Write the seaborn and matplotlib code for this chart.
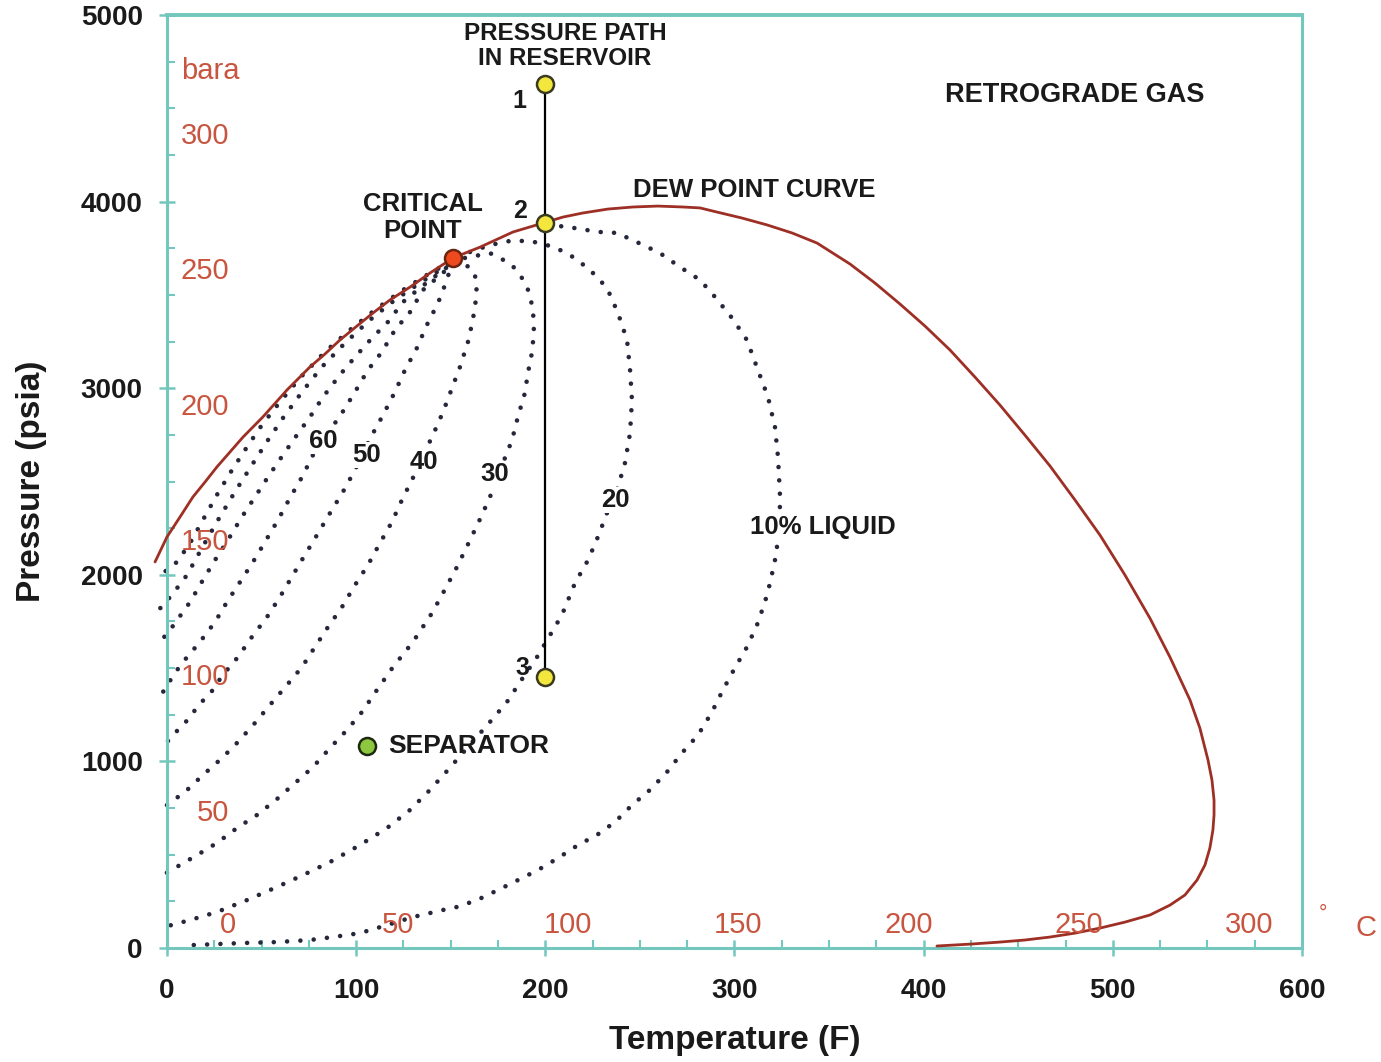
import matplotlib
matplotlib.use("Agg")
import matplotlib.pyplot as plt
import matplotlib.transforms as mtransforms
from matplotlib.ticker import MultipleLocator, FixedLocator
import seaborn as sns

# ---------------------------------------------------------------------------
# Phase envelope: bubble-point branch (left of critical point) and
# dew-point branch (right of critical point), temperature in F, pressure in psia
env_T = [-6.3, 0, 6.9, 13.7, 20.1, 26.4, 33.3, 40.2, 50.7, 63.4, 75.6, 83.5,
         91.4, 100.4, 108.9, 117.9, 128.5, 139.0, 151.2, 165.5, 182.9, 198.8,
         209.3, 219.9, 233.1, 246.3, 259.5, 272.8, 281.8, 290.7, 303.9, 317.2,
         330.4, 343.6, 361.0, 374.2, 387.5, 400.7, 413.9, 427.1, 440.3, 453.5,
         466.8, 480.0, 493.2, 506.4, 519.6, 530.2, 540.8, 546.0, 550.3, 552.4,
         553.5, 553.5, 552.9, 551.3, 548.7, 544.5, 538.1, 530.2, 519.6, 506.4,
         493.2, 480.0, 466.8, 453.5, 440.3, 424.5, 407.0]
env_P = [2069, 2203, 2310, 2417, 2497, 2578, 2658, 2738, 2846, 2990, 3114, 3183,
         3258, 3333, 3403, 3473, 3542, 3617, 3698, 3756, 3837, 3885,
         3917, 3939, 3960, 3971, 3976, 3971, 3966, 3944, 3912, 3875,
         3832, 3778, 3666, 3564, 3451, 3333, 3205, 3060, 2910, 2749,
         2583, 2401, 2213, 1999, 1768, 1559, 1329, 1179, 1008, 900,
         793, 713, 632, 536, 445, 364, 284, 230, 177, 139,
         107, 80, 59, 43, 32, 21, 11]

# Constant liquid-volume lines (% liquid)
q90_T = [149.6, 136.4, 123.2, 109.9, 96.7, 83.5, 70.3, 59.7, 50.2, 42.3, 34.4,
         26.4, 19.0, 12.2, 5.3, -5.3]
q90_P = [3676, 3601, 3516, 3419, 3312, 3194, 3055, 2926, 2803, 2685, 2562,
         2428, 2294, 2170, 2069, 1983]

q80_T = [148.5, 133.7, 120.5, 107.3, 94.1, 81.9, 71.4, 61.3, 53.4, 44.9, 35.9,
         27.0, 18.5, 10.6, 2.6, -5.3]
q80_P = [3660, 3564, 3473, 3366, 3242, 3114, 2980, 2840, 2722, 2588, 2444,
         2294, 2144, 1999, 1892, 1801]

q70_T = [147.5, 133.7, 124.8, 116.8, 108.4, 99.4, 91.4, 82.5, 75.6, 68.7, 61.3,
         53.4, 46.5, 39.6, 32.2, 25.4, 19.0, 12.2, 1.6, -3.7]
q70_P = [3644, 3537, 3462, 3355, 3269, 3167, 3071, 2953, 2846, 2749, 2642,
         2524, 2417, 2310, 2186, 2079, 1972, 1854, 1704, 1640]

q60_T = [146.4, 135.3, 128.5, 120.5, 113.6, 106.2, 99.4, 92.5, 88.8, 82.5, 77.2,
         71.4, 65.0, 58.7, 51.8, 45.5, 38.6, 31.7, 25.4, 17.4, 8.5, 4.2, -2.1]
q60_P = [3623, 3526, 3408, 3312, 3194, 3097, 2980, 2867, 2813, 2717, 2642,
         2524, 2412, 2294, 2176, 2069, 1961, 1854, 1747, 1640, 1533, 1474, 1372]

q50_T = [150.7, 148.0, 143.3, 137.4, 132.1, 125.8, 120.5, 114.2, 108.4, 103.1,
         99.4, 93.0, 86.2, 79.3, 72.9, 66.6, 59.7, 52.9, 44.9, 37.5, 29.1, 24.3,
         17.4, 9.5, 4.2, -3.7]
q50_P = [3676, 3580, 3457, 3339, 3215, 3097, 2980, 2856, 2749, 2642,
         2562, 2444, 2331, 2213, 2106, 1999, 1881, 1774, 1667, 1559, 1458, 1383,
         1308, 1206, 1152, 1061]

q40_T = [152.2, 160.2, 163.9, 163.3, 161.7, 159.1, 154.9, 150.7, 145.9, 140.6,
         133.7, 130.0, 124.2, 118.9, 112.6, 106.2, 99.4, 92.5, 85.1, 78.2, 71.4,
         63.4, 54.4, 46.5, 37.5, 29.1, 19.0, 9.5, 4.2, -2.1]
q40_P = [3676, 3649, 3580, 3473, 3366, 3248, 3114, 3001, 2872, 2749,
         2604, 2519, 2401, 2283, 2170, 2052, 1945, 1827, 1720, 1613, 1506,
         1409, 1302, 1206, 1104, 1018, 927, 836, 798, 750]

q30_T = [157.5, 170.7, 176.0, 182.4, 187.7, 191.4, 193.5, 194.0, 192.9, 190.8,
         189.2, 185.5, 182.4, 177.6, 172.3, 166.5, 160.2, 153.3, 145.9, 140.1,
         130.0, 119.5, 111.0, 103.1, 95.1, 86.2, 77.2, 67.7, 58.1, 47.6, 37.0,
         26.4, 15.9, 4.2, -2.1]
q30_P = [3698, 3724, 3698, 3660, 3590, 3516, 3419, 3301, 3189, 3081,
         2974, 2846, 2722, 2599, 2454, 2320, 2186, 2042, 1902, 1795,
         1640, 1506, 1383, 1265, 1168, 1072, 970, 884, 798, 713, 643,
         563, 498, 429, 391]

q20_T = [160.2, 170.7, 181.3, 191.9, 200.9, 207.7, 213.0, 218.3, 223.6, 228.9,
         233.1, 238.4, 243.2, 244.8, 245.8, 244.8, 242.1, 238.4, 232.6, 227.8,
         222.6, 215.7, 208.8, 202.5, 195.6, 186.6, 179.7, 170.7, 159.1, 148.5,
         139.0, 128.5, 116.3, 102.0, 86.2, 71.9, 58.1, 42.3, 26.4, 12.2, 0.5]
q20_P = [3730, 3767, 3789, 3789, 3767, 3741, 3714, 3676, 3633, 3580,
         3526, 3403, 3258, 3097, 2937, 2760, 2599, 2471, 2331, 2203,
         2079, 1956, 1785, 1677, 1559, 1425, 1318, 1211, 1077, 954,
         847, 740, 643, 552, 461, 391, 327, 257, 193, 150, 118]

q10_T = [201.4, 209.3, 218.3, 228.9, 237.9, 248.4, 260.6, 271.1, 281.8, 289.7,
         298.7, 306.6, 312.4, 317.7, 321.4, 323.0, 324.0, 324.0, 323.0, 321.4,
         318.8, 316.1, 311.9, 306.6, 300.2, 293.9, 288.1, 280.7, 272.2, 264.3,
         255.3, 245.8, 236.8, 227.3, 217.3, 206.7, 196.1, 185.5, 175.0, 163.9,
         153.3, 145.9, 130.0, 116.3, 102.0, 87.7, 75.6, 58.1, 40.2, 13.7]
q10_P = [3858, 3869, 3853, 3837, 3832, 3783, 3724, 3650, 3580, 3489,
         3376, 3258, 3097, 2953, 2792, 2631, 2438, 2347, 2186, 2079,
         1956, 1854, 1731, 1613, 1501, 1383, 1265, 1141, 1045, 943,
         847, 766, 675, 606, 552, 482, 418, 364, 311, 257,
         220, 204, 166, 123, 80, 59, 43, 32, 27, 16]

# Reservoir pressure path at constant reservoir temperature
path_T = [200, 200, 200]
path_P = [4630, 3885, 1450]
path_names = ["1", "2", "3"]

crit_T, crit_P = 151, 3698
sep_T, sep_P = 106, 1083

psia_ticks = [0, 1000, 2000, 3000, 4000, 5000]
temp_ticks = [0, 100, 200, 300, 400, 500, 600]
bara_ticks = [300, 250, 200, 150, 100, 50]
celsius_ticks = [0, 50, 100, 150, 200, 250, 300]
PSI_PER_BAR = 14.5038

# ---------------------------------------------------------------------------
sns.set_theme(style="white")
plt.rcParams["font.family"] = ["Liberation Sans", "DejaVu Sans"]

TEAL = "#74c7bd"
RED_TXT = "#c8553f"
ENVELOPE = "#9e2f25"
DOTS = "#25273a"

fig = plt.figure(figsize=(13.81, 10.62), dpi=100)
ax = fig.add_axes([0.1209, 0.1073, 0.8219, 0.8786])
ax.set_xlim(0, 600)
ax.set_ylim(0, 5000)

quality_lines = [
    (q90_T, q90_P), (q80_T, q80_P), (q70_T, q70_P), (q60_T, q60_P),
    (q50_T, q50_P), (q40_T, q40_P), (q30_T, q30_P), (q20_T, q20_P),
    (q10_T, q10_P),
]
for qt, qp in quality_lines:
    sns.lineplot(x=qt, y=qp, sort=False, estimator=None, ax=ax, color=DOTS,
                 linewidth=3.3, linestyle=(0, (0.01, 2.9)),
                 dash_capstyle="round", clip_on=False, zorder=2)

sns.lineplot(x=env_T, y=env_P, sort=False, estimator=None, ax=ax,
             color=ENVELOPE, linewidth=2.0, clip_on=False, zorder=3)

sns.lineplot(x=path_T, y=path_P, sort=False, estimator=None, ax=ax,
             color="black", linewidth=1.6, zorder=4)

sns.scatterplot(x=path_T, y=path_P, ax=ax, s=150, color="#f3e63c",
                edgecolor="#3a3a20", linewidth=1.8, zorder=6)
sns.scatterplot(x=[crit_T], y=[crit_P], ax=ax, s=150, color="#ef4a1e",
                edgecolor="#6b2410", linewidth=1.8, zorder=6)
sns.scatterplot(x=[sep_T], y=[sep_P], ax=ax, s=150, color="#8dc63f",
                edgecolor="#1e2a10", linewidth=1.8, zorder=6)

# ---------------------------------------------------------------------------
# Annotations
bold = dict(fontweight="bold", color="#1a1a1a")
ax.text(210.4, 4834, "PRESSURE PATH\nIN RESERVOIR", ha="center", va="center",
        fontsize=17.5, linespacing=1.1, **bold)
ax.text(135.3, 3917, "CRITICAL\nPOINT", ha="center", va="center",
        fontsize=18.5, linespacing=1.15, **bold)
ax.text(480, 4571, "RETROGRADE GAS", ha="center", va="center",
        fontsize=19.5, **bold)
ax.text(310.3, 4062, "DEW POINT CURVE", ha="center", va="center",
        fontsize=18.5, **bold)
for name, py, dx in zip(path_names, [4539, 3950, 1501], [-13.9, -13.4, -12.3]):
    ax.text(200 + dx, py, name, ha="center", va="center", fontsize=18, **bold)

wbox = dict(boxstyle="square,pad=0.05", fc="white", ec="none")
quality_labels = [("60", 82.5, 2717), ("50", 105.7, 2642), ("40", 135.9, 2604),
                  ("30", 173.4, 2540), ("20", 236.8, 2401)]
for txt, tx, ty in quality_labels:
    ax.text(tx, ty, txt, ha="center", va="center", fontsize=18.5, bbox=wbox,
            zorder=5, **bold)
ax.text(308.2, 2256, "10% LIQUID", ha="left", va="center", fontsize=18.5,
        bbox=wbox, zorder=5, **bold)
ax.text(116.8, 1083, "SEPARATOR", ha="left", va="center", fontsize=19, **bold)

# Secondary scales: bara along the left, degrees C along the bottom
left_tr = mtransforms.blended_transform_factory(ax.transAxes, ax.transData)
for b in bara_ticks:
    ax.text(0.055, b * PSI_PER_BAR, str(b), transform=left_tr, ha="right",
            va="center", fontsize=21, color=RED_TXT, zorder=5)
ax.text(0.012, 4700, "bara", transform=left_tr, ha="left", va="center",
        fontsize=21, color=RED_TXT)

bottom_tr = mtransforms.blended_transform_factory(ax.transData, ax.transAxes)
for c in celsius_ticks:
    ax.text(c * 1.8 + 32, 0.025, str(c), transform=bottom_tr, ha="center",
            va="center", fontsize=21, color=RED_TXT, zorder=5)
ax.text(1.018, 0.037, "\u00b0", transform=ax.transAxes, ha="center",
        va="center", fontsize=15, color=RED_TXT)
ax.text(1.056, 0.022, "C", transform=ax.transAxes, ha="center",
        va="center", fontsize=21, color=RED_TXT)

# ---------------------------------------------------------------------------
# Axes styling
for side in ["left", "right", "top", "bottom"]:
    ax.spines[side].set_visible(True)
    ax.spines[side].set_color(TEAL)
    ax.spines[side].set_linewidth(2.2)
ax.spines["top"].set_linewidth(2.8)

ax.xaxis.set_major_locator(FixedLocator(temp_ticks))
ax.yaxis.set_major_locator(FixedLocator(psia_ticks))
ax.xaxis.set_minor_locator(MultipleLocator(25))
ax.yaxis.set_minor_locator(MultipleLocator(250))
ax.tick_params(axis="both", which="major", bottom=True, left=True,
               direction="inout", length=11, width=1.8, color=TEAL,
               labelsize=20, labelcolor="#1a1a1a")
ax.tick_params(axis="x", which="major", pad=16)
ax.tick_params(axis="y", which="major", pad=12)
ax.tick_params(axis="both", which="minor", bottom=True, left=True,
               direction="in", length=6, width=1.5, color=TEAL)
for lab in ax.get_xticklabels() + ax.get_yticklabels():
    lab.set_fontweight("bold")

ax.set_xlabel("Temperature (F)", fontsize=24, fontweight="bold", color="#1a1a1a")
ax.set_ylabel("Pressure (psia)", fontsize=24, fontweight="bold", color="#1a1a1a")
ax.xaxis.set_label_coords(0.5, -0.083)
ax.yaxis.set_label_coords(-0.106, 0.50)
ax.grid(False)

fig.savefig("out.png", dpi=100)
